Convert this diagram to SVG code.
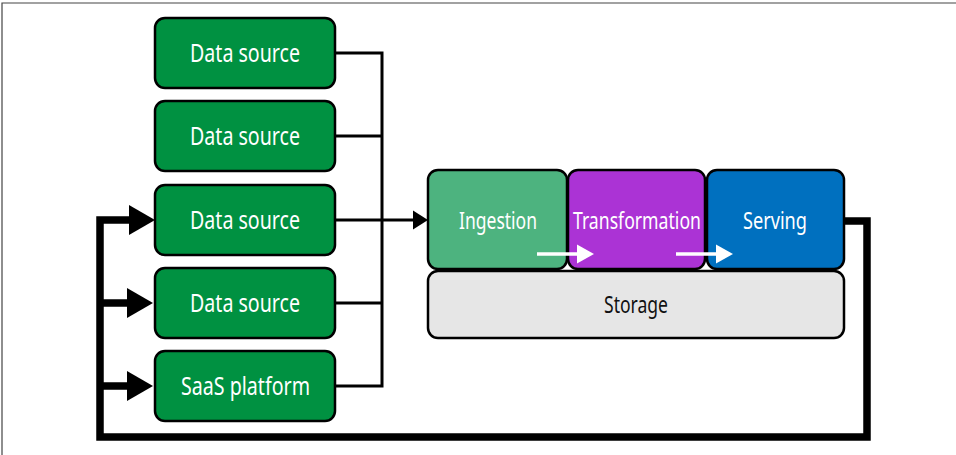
<svg xmlns="http://www.w3.org/2000/svg" width="956" height="455" viewBox="0 0 956 455">
<style>
.src rect{fill:#009141;stroke:#000;stroke-width:2.5}
.stage rect{stroke:#000;stroke-width:2.5}
text{font-family:"Noto Sans","Open Sans",sans-serif;fill:#fff;text-anchor:middle}
.big{font-size:26px}
.mid{font-size:23px}
.thin{fill:none;stroke:#000;stroke-width:3}
.thick{fill:none;stroke:#000;stroke-width:7.5}
.warrow{stroke:#fff;stroke-width:3.5}
</style>
<rect width="956" height="455" fill="#fff"/>
<path d="M2 455V3H956" fill="none" stroke="#444" stroke-width="1.2"/>
<g id="ds1" class="src"><rect x="155" y="18" width="180" height="70" rx="10"/><text class="big" x="245" y="62" textLength="110" lengthAdjust="spacingAndGlyphs">Data source</text></g>
<g id="ds2" class="src"><rect x="155" y="101" width="180" height="70" rx="10"/><text class="big" x="245" y="145" textLength="110" lengthAdjust="spacingAndGlyphs">Data source</text></g>
<g id="ds3" class="src"><rect x="155" y="185" width="180" height="70" rx="10"/><text class="big" x="245" y="229" textLength="110" lengthAdjust="spacingAndGlyphs">Data source</text></g>
<g id="ds4" class="src"><rect x="155" y="268" width="180" height="70" rx="10"/><text class="big" x="245" y="312" textLength="110" lengthAdjust="spacingAndGlyphs">Data source</text></g>
<g id="saas" class="src"><rect x="155" y="351" width="180" height="70" rx="10"/><text class="big" x="245.5" y="395" textLength="129" lengthAdjust="spacingAndGlyphs">SaaS platform</text></g>
<g id="storage" class="stage"><rect x="428" y="271" width="416" height="67" rx="10" fill="#e6e6e6"/><text class="mid" x="636" y="313" style="fill:#111" textLength="64" lengthAdjust="spacingAndGlyphs">Storage</text></g>
<g id="ingestion" class="stage"><rect x="428" y="170" width="139" height="99" rx="10" fill="#4db37f"/><text class="mid" x="498" y="229" textLength="78" lengthAdjust="spacingAndGlyphs">Ingestion</text></g>
<g id="transformation" class="stage"><rect x="568" y="170" width="137" height="99" rx="10" fill="#ab33d5"/><text class="mid" x="637" y="229" textLength="128" lengthAdjust="spacingAndGlyphs">Transformation</text></g>
<g id="serving" class="stage"><rect x="707" y="170" width="137" height="99" rx="10" fill="#0070bf"/><text class="mid" x="775" y="229" textLength="64" lengthAdjust="spacingAndGlyphs">Serving</text></g>
<g id="connectors">
<path class="thin" d="M335 53H382V386H335M335 136H382M335 303H382M335 220H414"/>
<polygon points="413,210.5 428,220 413,229.5" fill="#000"/>
<path class="thick" d="M844 221H867V437H100V220H131M100 303H128M100 386H128"/>
<polygon points="129,205 155,220 129,235" fill="#000"/>
<polygon points="127,288 153,303 127,318" fill="#000"/>
<polygon points="127,371 153,386 127,401" fill="#000"/>
<line class="warrow" x1="537" y1="254" x2="578" y2="254"/>
<polygon points="577,244.5 594,254 577,263.5" fill="#fff"/>
<line class="warrow" x1="676" y1="254" x2="717" y2="254"/>
<polygon points="716,244.5 733,254 716,263.5" fill="#fff"/>
</g>
</svg>
